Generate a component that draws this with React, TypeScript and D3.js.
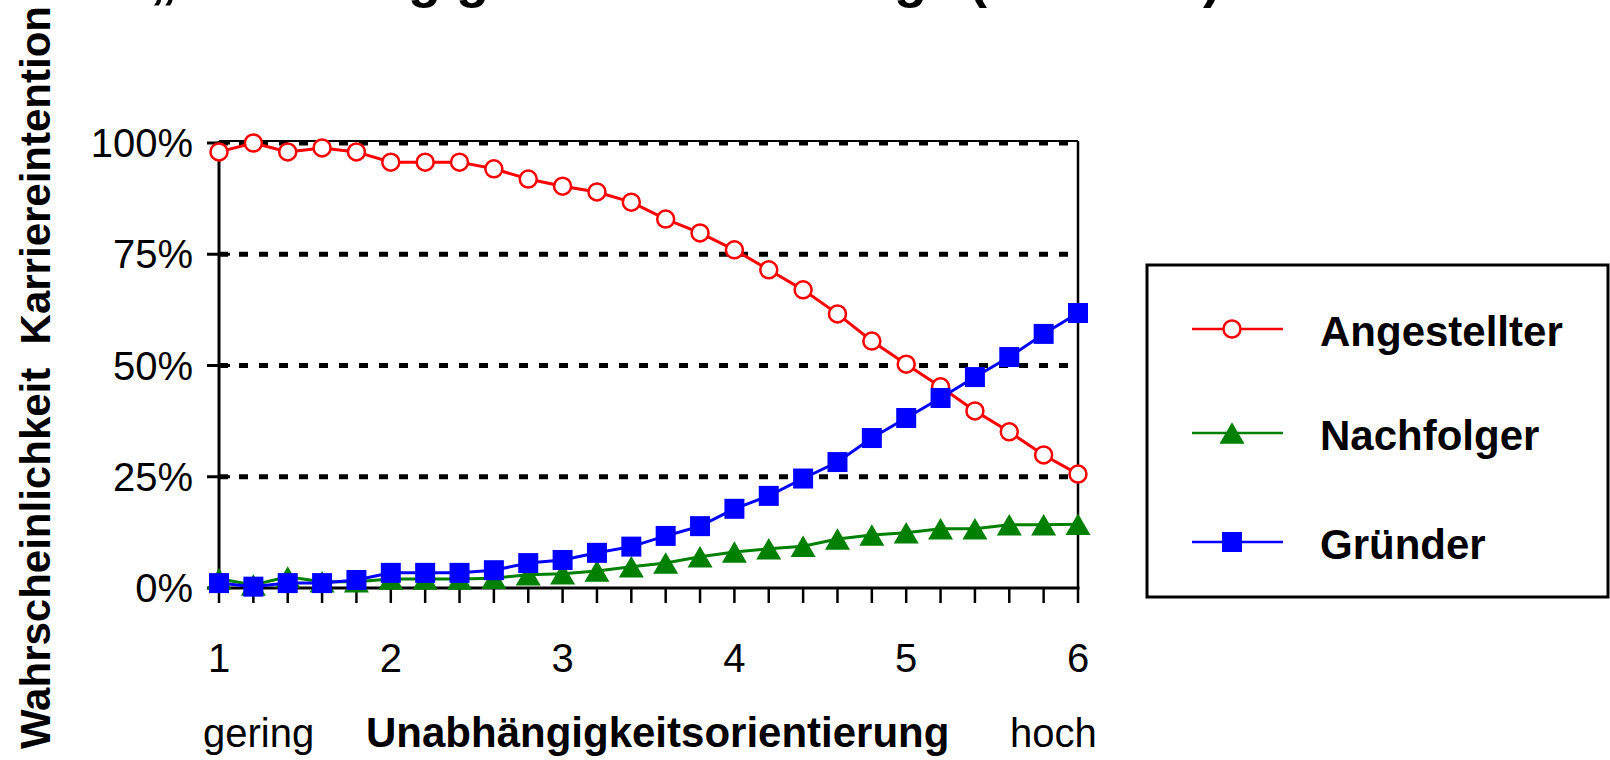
import React from 'react'
import * as d3 from 'd3'

const width = 1610
const height = 760
const font = '"Liberation Sans", Arial, sans-serif'

// Unabhängigkeitsorientierung (1 = gering ... 6 = hoch)
const xValues = [1, 1.2, 1.4, 1.6, 1.8, 2, 2.2, 2.4, 2.6, 2.8, 3, 3.2, 3.4, 3.6, 3.8, 4, 4.2, 4.4, 4.6, 4.8, 5, 5.2, 5.4, 5.6, 5.8, 6]
// Wahrscheinlichkeit in %
const angestellter = [98.0, 100, 98.0, 98.9, 98.0, 95.7, 95.7, 95.7, 94.2, 91.9, 90.3, 89.0, 86.7, 82.9, 79.8, 76.0, 71.5, 67.0, 61.6, 55.5, 50.3, 45.2, 39.8, 35.1, 29.9, 25.6]
const nachfolger = [2.1, 0.7, 2.5, 1.4, 1.4, 2.0, 2.0, 2.0, 2.2, 3.0, 3.2, 3.8, 4.8, 5.6, 7.0, 8.1, 8.8, 9.4, 11.0, 11.9, 12.4, 13.3, 13.3, 14.2, 14.2, 14.3]
const gruender = [1.1, 0.3, 1.1, 1.1, 1.8, 3.4, 3.4, 3.4, 4.0, 5.6, 6.3, 7.9, 9.3, 11.7, 13.9, 17.8, 20.7, 24.6, 28.3, 33.7, 38.2, 42.7, 47.4, 51.9, 57.1, 61.8]

const xTickLabels = [1, 2, 3, 4, 5, 6]
const yTicks = [0, 25, 50, 75, 100]
const gridTicks = [25, 50, 75, 100]

const seriesNames = ['Angestellter', 'Nachfolger', 'Gründer']
const seriesColors = ['#ff0000', '#008000', '#0000ff']

const x = d3.scaleLinear().domain([1, 6]).range([219, 1078])
const y = d3.scaleLinear().domain([0, 100]).range([588, 143])

// bbox-centred triangle like the spreadsheet marker
const triangle: d3.SymbolType = {
  draw(ctx, size) {
    const w = Math.sqrt(size)
    const h = w * 0.86
    ctx.moveTo(0, -h / 2)
    ctx.lineTo(w / 2, h / 2)
    ctx.lineTo(-w / 2, h / 2)
    ctx.closePath()
  }
}
const triPath = d3.symbol(triangle, 25 * 25)() || ''
const sqPath = d3.symbol(d3.symbolSquare, 20 * 20)() || ''

const line = d3.line<number>()
  .x((_, i) => x(xValues[i]))
  .y((d) => y(d))

const Marker: React.FC<{ kind: number; cx: number; cy: number }> = ({ kind, cx, cy }) => {
  if (kind === 0) {
    return <circle cx={cx} cy={cy} r={8.5} fill="#fff" stroke={seriesColors[0]} strokeWidth={2.5} />
  }
  return (
    <path
      d={kind === 1 ? triPath : sqPath}
      transform={`translate(${cx},${cy})`}
      fill={seriesColors[kind]}
    />
  )
}

const App: React.FC = () => {
  const allSeries = [angestellter, nachfolger, gruender]

  return (
    <svg
      width={width}
      height={height}
      style={{ position: 'absolute', left: 0, top: 0, background: '#fff' }}
      fontFamily={font}
    >
      <rect width={width} height={height} fill="#fff" />

      {/* title, mostly above the visible area as in the source */}
      <text x={150} y={-3} fontSize={54} fontWeight="bold">„Unabhängigkeitsorientierung“ (Modell 2)</text>

      {/* y axis title */}
      <text
        transform="translate(50,6) rotate(-90)"
        textAnchor="end"
        fontSize={42}
        fontWeight="bold"
        style={{ whiteSpace: 'pre' }}
      >
        {'Wahrscheinlichkeit  Karriereintention'}
      </text>

      {/* grid */}
      {gridTicks.map((t) => (
        <line key={t} x1={x(1)} x2={x(6)} y1={y(t)} y2={y(t)}
          stroke="#000" strokeWidth={5} strokeDasharray="9 11" />
      ))}

      {/* frame */}
      <line x1={x(1)} x2={x(6)} y1={141} y2={141} stroke="#000" strokeWidth={2} />
      <line x1={x(6)} x2={x(6)} y1={141} y2={y(0)} stroke="#000" strokeWidth={2.5} />
      <line x1={x(1)} x2={x(1)} y1={141} y2={y(0)} stroke="#000" strokeWidth={3} />
      <line x1={x(1) - 1.5} x2={x(6) + 1.5} y1={y(0)} y2={y(0)} stroke="#000" strokeWidth={3} />

      {/* y ticks */}
      {yTicks.map((t) => (
        <g key={t}>
          <line x1={x(1) - 12} x2={x(1) + 11} y1={y(t)} y2={y(t)} stroke="#000" strokeWidth={3} />
          <text x={193} y={y(t) + 14} textAnchor="end" fontSize={40}>{t}%</text>
        </g>
      ))}

      {/* x ticks */}
      {xValues.map((t) => (
        <line key={t} x1={x(t)} x2={x(t)} y1={y(0)} y2={y(0) + 15} stroke="#000" strokeWidth={2.5} />
      ))}
      {xTickLabels.map((t) => (
        <text key={t} x={x(t)} y={672} textAnchor="middle" fontSize={40}>{t}</text>
      ))}

      {/* x axis title */}
      <text x={203} y={747} fontSize={40}>gering</text>
      <text x={366} y={747} fontSize={42} fontWeight="bold">Unabhängigkeitsorientierung</text>
      <text x={1010} y={747} fontSize={40}>hoch</text>

      {/* series */}
      {allSeries.map((s, k) => (
        <g key={k}>
          <path d={line(s) || ''} fill="none" stroke={seriesColors[k]} strokeWidth={3} />
          {s.map((v, i) => (
            <Marker key={i} kind={k} cx={x(xValues[i])} cy={y(v)} />
          ))}
        </g>
      ))}

      {/* legend */}
      <rect x={1147} y={265} width={461} height={332} fill="#fff" stroke="#000" strokeWidth={3} />
      {seriesNames.map((name, k) => {
        const ly = [329, 433, 542][k]
        return (
          <g key={name}>
            <line x1={1192} x2={1283} y1={ly} y2={ly} stroke={seriesColors[k]} strokeWidth={2.5} />
            <Marker kind={k} cx={1232} cy={ly} />
            <text x={1320} y={ly + 17} fontSize={42} fontWeight="bold">{name}</text>
          </g>
        )
      })}
    </svg>
  )
}

export default App
